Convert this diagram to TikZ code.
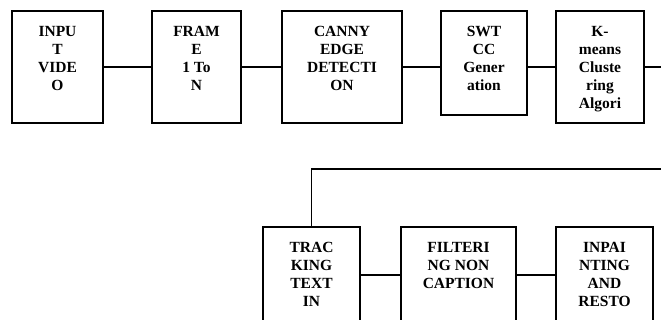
\documentclass[tikz,border=0pt]{standalone}
\usepackage{fontspec}
\setmainfont{Liberation Serif}
\usetikzlibrary{calc}
\newcommand{\toptext}[3]{\parbox[c][#2][t]{#1}{\centering\vspace*{15.5pt}#3}}

\begin{document}
\begin{tikzpicture}[x=1pt, y=-1pt,
    box/.style={draw, line width=1.4pt, inner sep=0pt, font=\fontsize{15.5}{18}\selectfont\bfseries},
    link/.style={line width=1.1pt}
]
\clip (0,0) rectangle (661,320);
\node[box] (inp) at (57.5,67) {\toptext{91pt}{112pt}{INPU\\T\\VIDE\\O}};
\node[box] (frm) at (196.5,67) {\toptext{89pt}{112pt}{FRAM\\E\\1 To\\N}};
\node[box] (cny) at (342,67) {\toptext{120pt}{112pt}{CANNY\\EDGE\\DETECTI\\ON}};
\node[box] (swt) at (484,63) {\toptext{86pt}{104pt}{SWT\\CC\\Gener\\ation}};
\node[box] (kmc) at (600,67) {\toptext{88pt}{112pt}{K-\\means\\Cluste\\ring\\Algori}};
\node[box] (trk) at (311.5,275) {\toptext{97pt}{96pt}{TRAC\\KING\\TEXT\\IN}};
\node[box] (flt) at (458.5,275) {\toptext{115pt}{96pt}{FILTERI\\NG NON\\CAPTION}};
\node[box] (inpt) at (604.5,275) {\toptext{97pt}{96pt}{INPAI\\NTING\\AND\\RESTO}};
\coordinate (edge1) at (661,67);
\coordinate (edge2) at (661,169);

\draw[link] (inp) -- (frm);
\draw[link] (frm) -- (cny);
\draw[link] (cny.east) -- (cny.east -| swt.west);
\draw[link] (swt.east |- kmc.west) -- (kmc.west);
\draw[link] (kmc.east) -- (edge1);
\draw[link] (edge2) -| (trk.north);
\draw[link] (trk) -- (flt);
\draw[link] (flt) -- (inpt);
\end{tikzpicture}
\end{document}
